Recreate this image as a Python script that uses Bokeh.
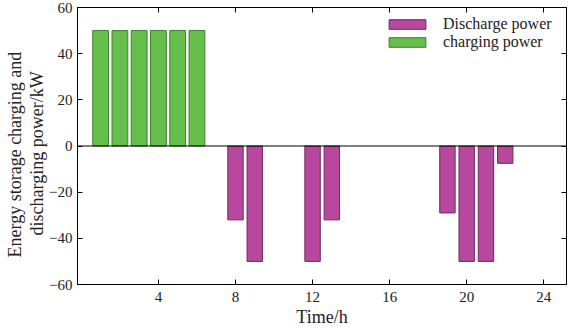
from bokeh.plotting import figure
from bokeh.models import (ColumnDataSource, Range1d, LinearAxis, Span, Legend, LegendItem,
                          FixedTicker, CustomJSTickFormatter, Title)
from bokeh.embed import file_html
from bokeh.resources import INLINE

charge_hours = [1, 2, 3, 4, 5, 6]
charge_power = [50, 50, 50, 50, 50, 50]
discharge_hours = [8, 9, 12, 13, 19, 20, 21, 22]
discharge_power = [-32, -50, -50, -32, -29, -50, -50, -7.5]
x_ticks = [4, 8, 12, 16, 20, 24]
y_ticks = [-60, -40, -20, 0, 20, 40, 60]
y_label_lines = ["Energy storage charging and", "discharging power/kW"]

FONT = "Liberation Serif"

p = figure(width=570, height=329, output_backend="svg", toolbar_location=None,
           x_range=Range1d(-0.2, 25.18), y_range=Range1d(-60, 60),
           min_border_left=77, min_border_right=4, min_border_top=7, min_border_bottom=0)
p.grid.visible = False
p.background_fill_color = "white"
p.border_fill_color = "white"
p.outline_line_color = "black"
p.outline_line_width = 1

cs = ColumnDataSource(dict(x=charge_hours, top=charge_power))
ds = ColumnDataSource(dict(x=discharge_hours, top=discharge_power))

r_c = p.vbar(x="x", top="top", bottom=0, width=0.82, source=cs,
             fill_color="#66BF4A", line_color="#3F7F30", line_width=1)
r_d = p.vbar(x="x", top="top", bottom=0, width=0.8, source=ds,
             fill_color="#B8489E", line_color="#6E2A5E", line_width=1)

p.add_layout(Span(location=0, dimension="width", line_color="black", line_width=1.2))

for ax in [p.xaxis[0], p.yaxis[0]]:
    ax.major_tick_in = 5
    ax.major_tick_out = 0
    ax.minor_tick_in = 0
    ax.minor_tick_out = 0
    ax.axis_line_color = "black"
    ax.major_tick_line_color = "black"
    ax.major_label_text_font = FONT
    ax.major_label_text_font_size = "15px"
    ax.major_label_text_color = "#222222"
    ax.axis_label_text_font = FONT
    ax.axis_label_text_font_size = "18px"
    ax.axis_label_text_font_style = "normal"
    ax.axis_label_text_color = "#222222"

p.xaxis[0].ticker = FixedTicker(ticks=x_ticks)
p.yaxis[0].ticker = FixedTicker(ticks=y_ticks)
p.xaxis[0].axis_label = "Time/h"
p.xaxis[0].major_label_standoff = 7
p.xaxis[0].axis_label_standoff = 2
p.yaxis[0].major_label_standoff = 5

# two-line y label as stacked left titles (inner line first)
for txt, off in zip(reversed(y_label_lines), [49, 27]):
    p.add_layout(Title(text=txt, align="left", text_font=FONT, text_font_size="18px",
                       text_font_style="normal", text_color="#222222",
                       standoff=0, offset=off), "left")

top = LinearAxis(ticker=FixedTicker(ticks=x_ticks), major_tick_in=5, major_tick_out=0,
                 minor_tick_in=0, minor_tick_out=0, formatter=CustomJSTickFormatter(code="return ''"),
                 major_label_standoff=0, axis_line_color="black")
right = LinearAxis(ticker=FixedTicker(ticks=[-40, -20, 0, 20, 40]), major_tick_in=5, major_tick_out=0,
                   minor_tick_in=0, minor_tick_out=0,
                   formatter=CustomJSTickFormatter(code="return ''"),
                   major_label_standoff=0, axis_line_color="black")
p.add_layout(top, "above")
p.add_layout(right, "right")

legend = Legend(items=[LegendItem(label="Discharge power", renderers=[r_d]),
                       LegendItem(label="charging power", renderers=[r_c])],
                location=(307, 233), border_line_color=None, background_fill_alpha=0,
                label_text_font=FONT, label_text_font_size="16px", label_text_color="#222222",
                glyph_width=46, glyph_height=12, spacing=0, padding=0, margin=0,
                label_standoff=13, label_height=12)
p.add_layout(legend)

open("out.html", "w").write(file_html(p, INLINE))
